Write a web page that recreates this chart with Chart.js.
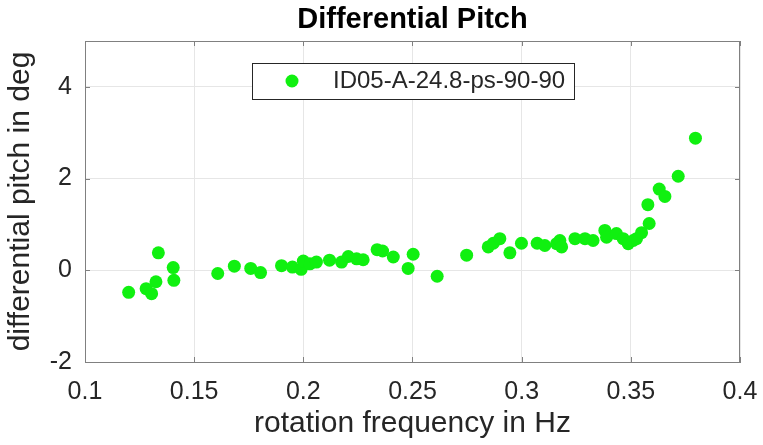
<!DOCTYPE html>
<html>
<head>
<meta charset="utf-8">
<script src="https://cdn.jsdelivr.net/npm/chart.js@4"></script>
<style>
  html, body { margin: 0; padding: 0; background: #fff; overflow: hidden; }
  #wrap { width: 763px; height: 445px; }
  #grafico { display: block; }
</style>
</head>
<body>
<div id="wrap"><canvas id="grafico"></canvas></div>
<script>
const serie = 'ID05-A-24.8-ps-90-90';
const freq = [0.120, 0.128, 0.1305, 0.1325, 0.1336, 0.1404, 0.1407, 0.1608, 0.1684, 0.1759,
  0.1804, 0.190, 0.195, 0.199, 0.200, 0.203, 0.206, 0.212, 0.2175, 0.2206,
  0.2244, 0.2274, 0.2338, 0.2363, 0.2412, 0.248, 0.2503, 0.2613, 0.2748, 0.2847,
  0.287, 0.290, 0.2946, 0.2999, 0.3071, 0.3106, 0.316, 0.3175, 0.3183, 0.3244,
  0.329, 0.3327, 0.3381, 0.3389, 0.3434, 0.3465, 0.3488, 0.3511, 0.3526, 0.3549,
  0.3584, 0.3578, 0.3630, 0.3656, 0.3717, 0.3796];
const pitch = [-0.48, -0.40, -0.51, -0.25, 0.38, 0.06, -0.22, -0.07, 0.09, 0.04,
  -0.05, 0.10, 0.07, 0.02, 0.20, 0.14, 0.18, 0.22, 0.18, 0.30,
  0.25, 0.23, 0.45, 0.42, 0.29, 0.04, 0.35, -0.13, 0.33, 0.51,
  0.59, 0.69, 0.38, 0.59, 0.59, 0.54, 0.58, 0.65, 0.51, 0.69,
  0.69, 0.65, 0.87, 0.72, 0.80, 0.69, 0.58, 0.65, 0.69, 0.82,
  1.02, 1.43, 1.77, 1.61, 2.05, 2.88];
const xTicks = [0.1, 0.15, 0.2, 0.25, 0.3, 0.35, 0.4];
const yTicks = [-2, 0, 2, 4];

const verde = '#10f010';
const gris = '#262626';
const fuente = 'Liberation Sans, Arial, sans-serif';

// punto de la leyenda, centrado en un lienzo ancho para separar el texto
const punto = document.createElement('canvas');
punto.width = 58; punto.height = 24;
const pc = punto.getContext('2d');
pc.fillStyle = verde;
pc.beginPath(); pc.arc(29, 12, 6.5, 0, Math.PI * 2); pc.fill();

const marco = {
  id: 'marco',
  afterLayout(chart) {
    const lg = chart.legend;
    lg.left = 263 - 10;
    lg.top = 69 - 10;
    if (!lg._conMarco) {
      const orig = lg.draw;
      lg.draw = function (area) {
        const c = this.ctx;
        const x0 = this.left + 10, y0 = this.top + 10;
        c.save();
        c.fillStyle = '#fff';
        c.strokeStyle = gris;
        c.lineWidth = 1;
        c.fillRect(x0 - 11, y0 - 6, 322, 36);
        c.strokeRect(x0 - 11 + 0.5, y0 - 6 + 0.5, 322, 36);
        c.restore();
        orig.call(this, area);
      };
      lg._conMarco = true;
    }
  },
  afterDraw(chart) {
    const { ctx, chartArea: a, scales: { x, y } } = chart;
    ctx.save();
    ctx.strokeStyle = '#808080';
    ctx.lineWidth = 1;
    ctx.beginPath();
    ctx.moveTo(a.left, a.top + 0.5); ctx.lineTo(a.right, a.top + 0.5);
    ctx.moveTo(a.right - 0.5, a.top); ctx.lineTo(a.right - 0.5, a.bottom);
    xTicks.forEach(v => {
      const px = Math.round(x.getPixelForValue(v)) + 0.5;
      ctx.moveTo(px, a.bottom); ctx.lineTo(px, a.bottom - 5);
      ctx.moveTo(px, a.top); ctx.lineTo(px, a.top + 5);
    });
    yTicks.forEach(v => {
      const py = Math.round(y.getPixelForValue(v)) + 0.5;
      ctx.moveTo(a.left, py); ctx.lineTo(a.left + 5, py);
      ctx.moveTo(a.right, py); ctx.lineTo(a.right - 5, py);
    });
    ctx.stroke();
    ctx.restore();
  }
};

const ctx = document.getElementById('grafico').getContext('2d');

new Chart(ctx, {
  type: 'scatter',
  data: {
    datasets: [{
      label: serie,
      data: freq.map((f, i) => ({ x: f, y: pitch[i] })),
      backgroundColor: verde,
      borderWidth: 0,
      pointRadius: 6.5,
      pointHoverRadius: 6.5
    }]
  },
  options: {
    responsive: true,
    maintainAspectRatio: false,
    animation: false,
    layout: { padding: { left: 0, right: 23, top: 0, bottom: 0 } },
    plugins: {
      title: {
        display: true,
        fullSize: false,
        text: 'Differential Pitch',
        color: '#000',
        font: { family: fuente, size: 29, weight: 'bold' },
        padding: { top: 3, bottom: 3.2 }
      },
      legend: {
        position: 'chartArea',
        align: 'start',
        labels: {
          usePointStyle: true,
          pointStyle: punto,
          pointStyleWidth: 58,
          boxHeight: 24,
          padding: 10,
          color: gris,
          font: { family: fuente, size: 24 }
        }
      },
      tooltip: { enabled: false }
    },
    scales: {
      x: {
        type: 'linear',
        min: 0.1,
        max: 0.4,
        afterBuildTicks: s => { s.ticks = xTicks.map(v => ({ value: v })); },
        afterFit: s => { s.height = 83; s.paddingLeft = 0; s.paddingRight = 0; },
        grid: { color: '#e6e6e6', drawTicks: false },
        border: { color: '#808080' },
        ticks: {
          color: gris,
          padding: 15,
          maxRotation: 0,
          font: { family: fuente, size: 25 },
          callback: v => String(v)
        },
        title: {
          display: true,
          text: 'rotation frequency in Hz',
          color: gris,
          font: { family: fuente, size: 30 },
          padding: { top: 0, bottom: 3 }
        }
      },
      y: {
        type: 'linear',
        min: -2,
        max: 5,
        afterBuildTicks: s => { s.ticks = yTicks.map(v => ({ value: v })); },
        afterFit: s => { s.width = 85; },
        grid: { color: '#e6e6e6', drawTicks: false },
        border: { color: '#808080' },
        ticks: {
          color: gris,
          padding: 13,
          font: { family: fuente, size: 25 },
          callback: v => String(v)
        },
        title: {
          display: true,
          text: 'differential pitch in deg',
          color: gris,
          font: { family: fuente, size: 30 },
          padding: { top: 3, bottom: 0 }
        }
      }
    }
  },
  plugins: [marco]
});
</script>
</body>
</html>
